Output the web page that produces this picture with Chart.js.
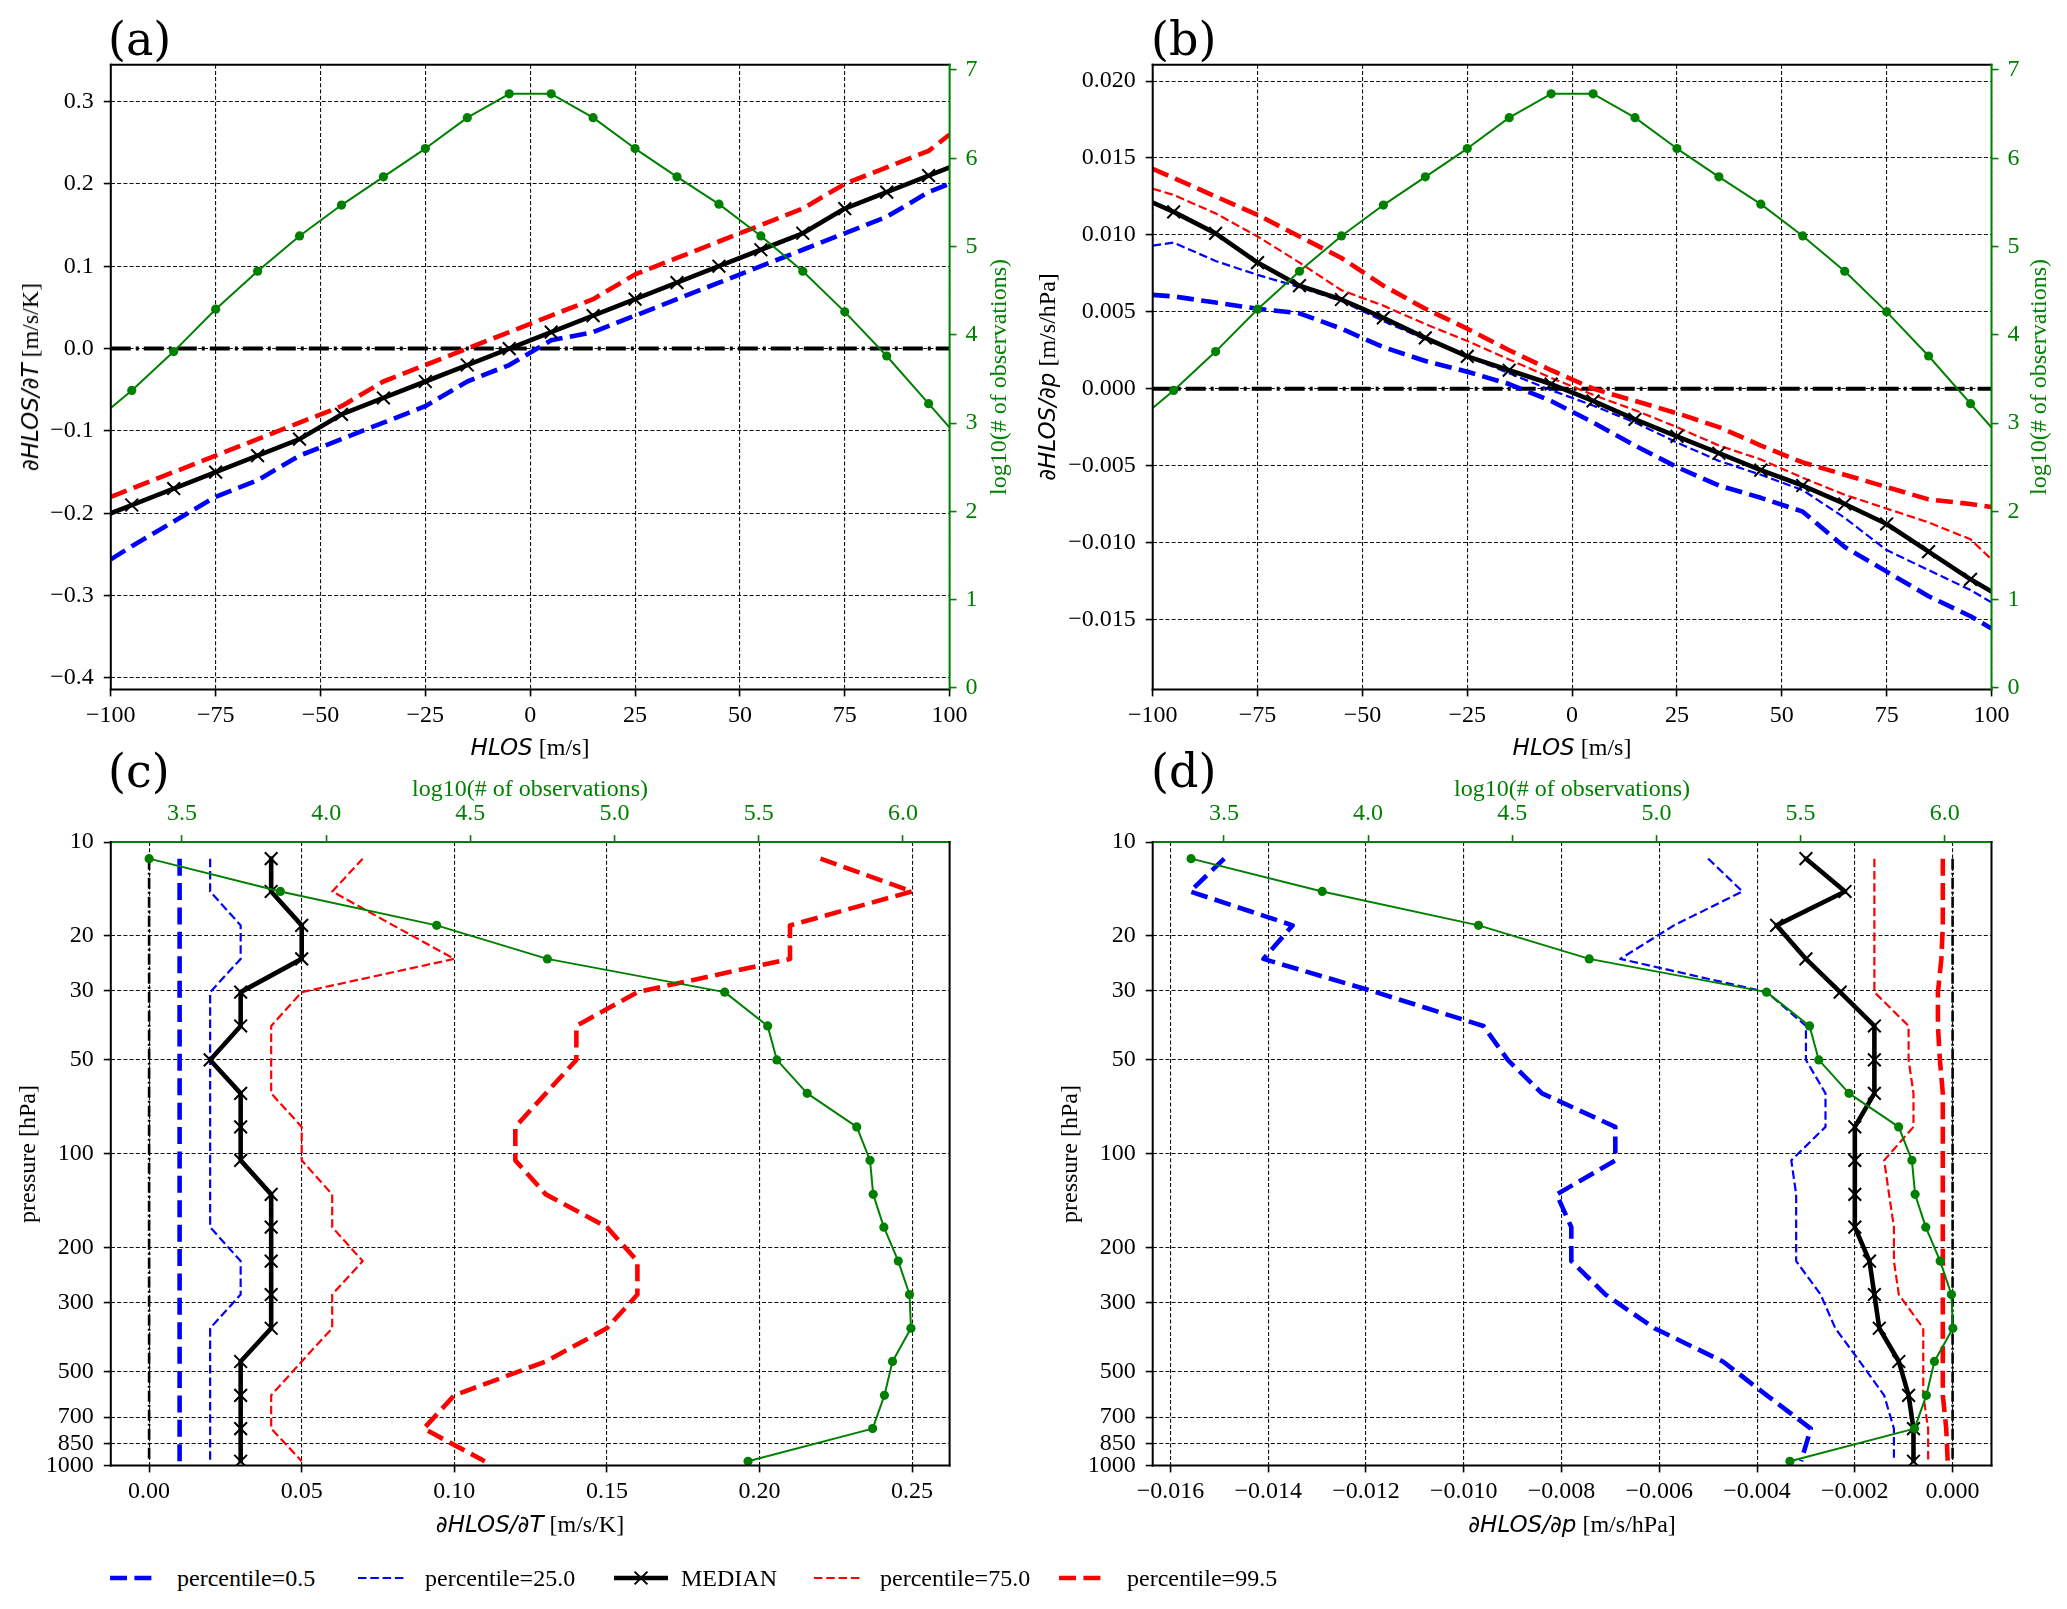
<!DOCTYPE html>
<html>
<head>
<meta charset="utf-8">
<script src="https://cdn.jsdelivr.net/npm/chart.js@4.4.0/dist/chart.umd.min.js"></script>
<style>
html,body{margin:0;padding:0;background:#fff;}
#fig{position:relative;width:2067px;height:1609px;overflow:hidden;background:#fff;font-family:'Liberation Serif','Times New Roman',serif;}
canvas.c{position:absolute;}
.t{position:absolute;white-space:nowrap;font-size:24px;line-height:1;color:#000;z-index:5;}
.m{font-family:'DejaVu Sans',sans-serif;font-style:italic;font-size:23px;}
.ctr{transform:translate(-50%,-50%);}
.rot{transform:translate(-50%,-50%) rotate(-90deg);}
.g{color:#008000;}
.pl{font-family:'DejaVu Serif',serif;font-size:46px;}
.lh{position:absolute;z-index:5;}
</style>
</head>
<body>
<div id="fig">
  <canvas class="c" id="ca" width="1034" height="780" style="left:0;top:0"></canvas>
  <canvas class="c" id="cb" width="1033" height="780" style="left:1034px;top:0"></canvas>
  <canvas class="c" id="cc" width="1034" height="790" style="left:0;top:760px"></canvas>
  <canvas class="c" id="cd" width="1033" height="790" style="left:1034px;top:760px"></canvas>

  <div class="t pl" style="left:108px;top:16px">(a)</div>
  <div class="t pl" style="left:1151px;top:16px">(b)</div>
  <div class="t pl" style="left:108px;top:748px">(c)</div>
  <div class="t pl" style="left:1151px;top:748px">(d)</div>

  <div class="t ctr" style="left:530px;top:747px"><span class="m">HLOS</span> [m/s]</div>
  <div class="t ctr" style="left:1572px;top:747px"><span class="m">HLOS</span> [m/s]</div>
  <div class="t rot" style="left:30px;top:377px"><span class="m">∂HLOS/∂T</span> [m/s/K]</div>
  <div class="t rot" style="left:1047px;top:377px"><span class="m">∂HLOS/∂p</span> [m/s/hPa]</div>
  <div class="t rot g" style="left:998px;top:377px">log10(# of observations)</div>
  <div class="t rot g" style="left:2038px;top:377px">log10(# of observations)</div>

  <div class="t ctr g" style="left:530px;top:788px">log10(# of observations)</div>
  <div class="t ctr g" style="left:1572px;top:788px">log10(# of observations)</div>
  <div class="t rot" style="left:27px;top:1154px">pressure [hPa]</div>
  <div class="t rot" style="left:1069px;top:1154px">pressure [hPa]</div>
  <div class="t ctr" style="left:530px;top:1524px"><span class="m">∂HLOS/∂T</span> [m/s/K]</div>
  <div class="t ctr" style="left:1572px;top:1524px"><span class="m">∂HLOS/∂p</span> [m/s/hPa]</div>

  <canvas class="lh" id="lg0" width="48" height="20" style="left:110px;top:1568px"></canvas>
  <div class="t" style="left:177px;top:1566px">percentile=0.5</div>
  <canvas class="lh" id="lg1" width="48" height="20" style="left:358px;top:1568px"></canvas>
  <div class="t" style="left:425px;top:1566px">percentile=25.0</div>
  <canvas class="lh" id="lg2" width="54" height="24" style="left:614px;top:1566px"></canvas>
  <div class="t" style="left:681px;top:1566px">MEDIAN</div>
  <canvas class="lh" id="lg3" width="48" height="20" style="left:814px;top:1568px"></canvas>
  <div class="t" style="left:880px;top:1566px">percentile=75.0</div>
  <canvas class="lh" id="lg4" width="48" height="20" style="left:1059px;top:1568px"></canvas>
  <div class="t" style="left:1127px;top:1566px">percentile=99.5</div>
</div>
<script>
// ---------------- DATA ----------------
// HLOS bins (m/s); edge points at +-100 carry no marker
const hlosBins = [-100,-95,-85,-75,-65,-55,-45,-35,-25,-15,-5,5,15,25,35,45,55,65,75,85,95,100];
const obsHlos  = [3.17,3.37,3.81,4.29,4.72,5.12,5.47,5.79,6.11,6.46,6.73,6.73,6.46,6.11,5.79,5.48,5.12,4.72,4.26,3.76,3.22,2.95];

// panel (a): dHLOS/dT vs HLOS
const aP005 = [-0.256,-0.24,-0.21,-0.18,-0.16,-0.13,-0.11,-0.09,-0.07,-0.04,-0.02,0.01,0.02,0.04,0.06,0.08,0.10,0.12,0.14,0.16,0.19,0.20];
const aP25  = [-0.20,-0.19,-0.17,-0.15,-0.13,-0.11,-0.08,-0.06,-0.04,-0.02,0.00,0.02,0.04,0.06,0.08,0.10,0.12,0.14,0.17,0.19,0.21,0.22];
const aMed  = [-0.20,-0.19,-0.17,-0.15,-0.13,-0.11,-0.08,-0.06,-0.04,-0.02,0.00,0.02,0.04,0.06,0.08,0.10,0.12,0.14,0.17,0.19,0.21,0.22];
const aP75  = [-0.20,-0.19,-0.17,-0.15,-0.13,-0.11,-0.08,-0.06,-0.04,-0.02,0.00,0.02,0.04,0.06,0.08,0.10,0.12,0.14,0.17,0.19,0.21,0.22];
const aP995 = [-0.18,-0.17,-0.15,-0.13,-0.11,-0.09,-0.07,-0.04,-0.02,0.00,0.02,0.04,0.06,0.09,0.11,0.13,0.15,0.17,0.20,0.22,0.24,0.26];

// panel (b): dHLOS/dp vs HLOS
const bP005 = [0.0061,0.0060,0.0056,0.0052,0.0049,0.0039,0.0027,0.0018,0.0011,0.0003,-0.0008,-0.0022,-0.0037,-0.0051,-0.0063,-0.0071,-0.0080,-0.0103,-0.0119,-0.0135,-0.0148,-0.0156];
const bP25  = [0.0093,0.0095,0.0083,0.0074,0.0066,0.0057,0.0044,0.0032,0.0021,0.0010,-0.0001,-0.0011,-0.0022,-0.0035,-0.0047,-0.0056,-0.0066,-0.0084,-0.0105,-0.0118,-0.0131,-0.0139];
const bMed  = [0.0121,0.0115,0.0101,0.0082,0.0067,0.0058,0.0046,0.0033,0.0021,0.0012,0.0003,-0.0008,-0.0020,-0.0031,-0.0042,-0.0053,-0.0063,-0.0075,-0.0088,-0.0106,-0.0124,-0.0132];
const bP75  = [0.0130,0.0126,0.0114,0.0099,0.0082,0.0064,0.0054,0.0042,0.0031,0.0019,0.0007,-0.0004,-0.0014,-0.0025,-0.0037,-0.0046,-0.0058,-0.0069,-0.0078,-0.0087,-0.0098,-0.0111];
const bP995 = [0.0143,0.0137,0.0125,0.0113,0.0099,0.0085,0.0067,0.0052,0.0039,0.0025,0.0012,0.0000,-0.0008,-0.0016,-0.0025,-0.0037,-0.0048,-0.0056,-0.0064,-0.0072,-0.0075,-0.0077];

// pressure levels (hPa) and observation counts
const pLevels = [11.3,14.4,18.5,23.7,30.3,38.9,50,64,82,105,135,172,221,283,363,464,596,762,970];
const obsLev  = [3.386,3.841,4.383,4.767,5.382,5.531,5.563,5.668,5.840,5.886,5.897,5.934,5.984,6.023,6.028,5.964,5.936,5.895,5.463];

// panel (c): dHLOS/dT vs pressure
const cP005 = [0.01,0.01,0.01,0.01,0.01,0.01,0.01,0.01,0.01,0.01,0.01,0.01,0.01,0.01,0.01,0.01,0.01,0.01,0.01];
const cP25  = [0.02,0.02,0.03,0.03,0.02,0.02,0.02,0.02,0.02,0.02,0.02,0.02,0.03,0.03,0.02,0.02,0.02,0.02,0.02];
const cMed  = [0.04,0.04,0.05,0.05,0.03,0.03,0.02,0.03,0.03,0.03,0.04,0.04,0.04,0.04,0.04,0.03,0.03,0.03,0.03];
const cP75  = [0.07,0.06,0.08,0.10,0.05,0.04,0.04,0.04,0.05,0.05,0.06,0.06,0.07,0.06,0.06,0.05,0.04,0.04,0.05];
const cP995 = [0.22,0.25,0.21,0.21,0.16,0.14,0.14,0.13,0.12,0.12,0.13,0.15,0.16,0.16,0.15,0.13,0.10,0.09,0.11];

// panel (d): dHLOS/dp vs pressure
const dP005 = [-0.0149,-0.0156,-0.0135,-0.0141,-0.0118,-0.0096,-0.0091,-0.0084,-0.0069,-0.0069,-0.0081,-0.0078,-0.0078,-0.0071,-0.0061,-0.0047,-0.0038,-0.0029,-0.0031];
const dP25  = [-0.0050,-0.0043,-0.0057,-0.0068,-0.0038,-0.0030,-0.0030,-0.0026,-0.0026,-0.0033,-0.0032,-0.0032,-0.0032,-0.0027,-0.0024,-0.0019,-0.0014,-0.0012,-0.0012];
const dMed  = [-0.0030,-0.0022,-0.0036,-0.0030,-0.0023,-0.0016,-0.0016,-0.0016,-0.0020,-0.0020,-0.0020,-0.0020,-0.0017,-0.0016,-0.0015,-0.0011,-0.0009,-0.0008,-0.0008];
const dP75  = [-0.0016,-0.0016,-0.0016,-0.0016,-0.0016,-0.0009,-0.0009,-0.0008,-0.0008,-0.0014,-0.0013,-0.0012,-0.0012,-0.0011,-0.0006,-0.0006,-0.0006,-0.0005,-0.0005];
const dP995 = [-0.0002,-0.0002,-0.0002,-0.00023,-0.0003,-0.0003,-0.00026,-0.0002,-0.0002,-0.0002,-0.0002,-0.0002,-0.0002,-0.0002,-0.0002,-0.0002,-0.0002,-0.00013,-0.0001];

// reference zero lines
const zeroHlosX = [-100, 100];
const zeroHlosY = [0, 0];
const zeroLevP  = [11.3, 970];
const zeroLevX  = [0, 0];

// ticks
const hlosTicks = [-100,-75,-50,-25,0,25,50,75,100];
const hlosTickLabels = ['−100','−75','−50','−25','0','25','50','75','100'];
const aYTicks = [0.3,0.2,0.1,0,-0.1,-0.2,-0.3,-0.4];
const aYTickLabels = ['0.3','0.2','0.1','0.0','−0.1','−0.2','−0.3','−0.4'];
const bYTicks = [0.02,0.015,0.01,0.005,0,-0.005,-0.01,-0.015];
const bYTickLabels = ['0.020','0.015','0.010','0.005','0.000','−0.005','−0.010','−0.015'];
const obsTicks = [0,1,2,3,4,5,6,7];
const obsTickLabels = ['0','1','2','3','4','5','6','7'];
const pTicks = [10,20,30,50,100,200,300,500,700,850,1000];
const pTickLabels = ['10','20','30','50','100','200','300','500','700','850','1000'];
const cXTicks = [0,0.05,0.10,0.15,0.20,0.25];
const cXTickLabels = ['0.00','0.05','0.10','0.15','0.20','0.25'];
const dXTicks = [-0.016,-0.014,-0.012,-0.010,-0.008,-0.006,-0.004,-0.002,0];
const dXTickLabels = ['−0.016','−0.014','−0.012','−0.010','−0.008','−0.006','−0.004','−0.002','0.000'];
const obsTopTicks = [3.5,4.0,4.5,5.0,5.5,6.0];
const obsTopTickLabels = ['3.5','4.0','4.5','5.0','5.5','6.0'];

// ---------------- STYLE / HELPERS ----------------
const BLUE = '#0000ff', RED = '#ff0000', GREEN = '#008000', BLACK = '#000000';
const THICK_W = 4.6, THICK_DASH = [17, 7.4];
const THIN_W = 2.2, THIN_DASH = [8.5, 3.8];

const xy = (xs, ys) => xs.map((x, i) => ({x: x, y: ys[i]}));
const vp = (vals, lev) => vals.map((v, i) => ({x: v, y: lev[i]}));

const framePlugin = {
  id: 'frame',
  afterDatasetsDraw(chart, args, o) {
    const {ctx, chartArea: a} = chart;
    ctx.save();
    ctx.lineWidth = 2;
    ctx.lineCap = 'square';
    const seg = (c, x1, y1, x2, y2) => { ctx.strokeStyle = c; ctx.beginPath(); ctx.moveTo(x1, y1); ctx.lineTo(x2, y2); ctx.stroke(); };
    seg(o.top || BLACK, a.left, a.top, a.right, a.top);
    seg(o.bottom || BLACK, a.left, a.bottom, a.right, a.bottom);
    seg(o.left || BLACK, a.left, a.top, a.left, a.bottom);
    seg(o.right || BLACK, a.right, a.top, a.right, a.bottom);
    ctx.restore();
  }
};

function axis(o) {
  const vertical = (o.position === 'left' || o.position === 'right');
  return {
    type: o.type || 'linear',
    position: o.position,
    min: o.min, max: o.max,
    reverse: !!o.reverse,
    afterBuildTicks: s => { s.ticks = o.ticks.map(v => ({value: v})); },
    afterFit: s => { if (vertical) s.width = o.size; else s.height = o.size; },
    ticks: {
      autoSkip: false, maxRotation: 0, minRotation: 0,
      color: o.color || BLACK,
      padding: o.pad,
      font: {family: "'Liberation Serif', 'Times New Roman', serif", size: 24},
      callback: (v, i) => o.labels[i]
    },
    grid: {
      display: true,
      drawOnChartArea: o.grid !== false,
      drawTicks: true,
      tickLength: 7,
      tickWidth: 1.6,
      tickColor: o.color || BLACK,
      tickBorderDash: [],
      color: '#111',
      lineWidth: 1.1
    },
    border: {display: false, dash: [4, 2.2]},
    title: {display: false}
  };
}

function lineDs(label, data, color, width, dash, order, extra) {
  return Object.assign({
    label: label, data: data, showLine: true, fill: false, tension: 0,
    borderColor: color, backgroundColor: color, borderWidth: width, borderDash: dash,
    borderCapStyle: 'butt', borderJoinStyle: 'round',
    pointRadius: 0, pointHoverRadius: 0, order: order
  }, extra || {});
}

const edgeless = r => ctx => (ctx.raw && Math.abs(ctx.raw.x) === 100 ? 0 : r);

function medianDs(data, edgesHidden) {
  return lineDs('MEDIAN', data, BLACK, 4.6, [], 1, {
    pointStyle: 'crossRot',
    pointRadius: edgesHidden ? edgeless(9) : 9,
    pointBorderWidth: 2,
    pointBorderColor: BLACK,
    pointBackgroundColor: BLACK,
    borderCapStyle: 'round'
  });
}
function obsDs(data, edgesHidden, axes) {
  return lineDs('log10(# of observations)', data, GREEN, 2, [], 0, Object.assign({
    pointStyle: 'circle',
    pointRadius: edgesHidden ? edgeless(4.6) : 4.6,
    pointBorderWidth: 0,
    pointBackgroundColor: GREEN
  }, axes));
}

const commonOpts = (padding, frame, scales) => ({
  responsive: false, animation: false, devicePixelRatio: 1, events: [],
  layout: {padding: padding},
  plugins: {legend: {display: false}, tooltip: {enabled: false}, frame: frame},
  scales: scales
});

// ---------------- PANEL (a) ----------------
new Chart(document.getElementById('ca'), {
  type: 'scatter',
  plugins: [framePlugin],
  data: {datasets: [
    lineDs('zero', xy(zeroHlosX, zeroHlosY), BLACK, 4, [20, 5, 3, 5], 10),
    lineDs('percentile=0.5', xy(hlosBins, aP005), BLUE, THICK_W, THICK_DASH, 6),
    lineDs('percentile=99.5', xy(hlosBins, aP995), RED, THICK_W, THICK_DASH, 5),
    lineDs('percentile=25.0', xy(hlosBins, aP25), BLUE, THIN_W, THIN_DASH, 4),
    lineDs('percentile=75.0', xy(hlosBins, aP75), RED, THIN_W, THIN_DASH, 3),
    medianDs(xy(hlosBins, aMed), true),
    obsDs(xy(hlosBins, obsHlos), true, {yAxisID: 'y2'})
  ]},
  options: commonOpts({top: 64.7, left: 0, right: 0, bottom: 0}, {right: GREEN}, {
    x: axis({position: 'bottom', min: -100, max: 100, ticks: hlosTicks, labels: hlosTickLabels, size: 90.6, pad: 5}),
    y: axis({position: 'left', min: -0.4139, max: 0.3447, ticks: aYTicks, labels: aYTickLabels, size: 110.8, pad: 10}),
    y2: axis({position: 'right', min: -0.017, max: 7.06, ticks: obsTicks, labels: obsTickLabels, size: 84.4, pad: 9, color: GREEN, grid: false})
  })
});

// ---------------- PANEL (b) ----------------
new Chart(document.getElementById('cb'), {
  type: 'scatter',
  plugins: [framePlugin],
  data: {datasets: [
    lineDs('zero', xy(zeroHlosX, zeroHlosY), BLACK, 4, [20, 5, 3, 5], 10),
    lineDs('percentile=0.5', xy(hlosBins, bP005), BLUE, THICK_W, THICK_DASH, 6),
    lineDs('percentile=99.5', xy(hlosBins, bP995), RED, THICK_W, THICK_DASH, 5),
    lineDs('percentile=25.0', xy(hlosBins, bP25), BLUE, THIN_W, THIN_DASH, 4),
    lineDs('percentile=75.0', xy(hlosBins, bP75), RED, THIN_W, THIN_DASH, 3),
    medianDs(xy(hlosBins, bMed), true),
    obsDs(xy(hlosBins, obsHlos), true, {yAxisID: 'y2'})
  ]},
  options: commonOpts({top: 64.7, left: 0, right: 0, bottom: 0}, {right: GREEN}, {
    x: axis({position: 'bottom', min: -100, max: 100, ticks: hlosTicks, labels: hlosTickLabels, size: 90.6, pad: 5}),
    y: axis({position: 'left', min: -0.01956, max: 0.02107, ticks: bYTicks, labels: bYTickLabels, size: 118.7, pad: 10}),
    y2: axis({position: 'right', min: -0.017, max: 7.06, ticks: obsTicks, labels: obsTickLabels, size: 75.5, pad: 9, color: GREEN, grid: false})
  })
});

// ---------------- PANEL (c) ----------------
new Chart(document.getElementById('cc'), {
  type: 'scatter',
  plugins: [framePlugin],
  data: {datasets: [
    lineDs('zero', vp(zeroLevX, zeroLevP), BLACK, 2.6, [11, 3, 2, 3], 10),
    lineDs('percentile=0.5', vp(cP005, pLevels), BLUE, THICK_W, THICK_DASH, 6),
    lineDs('percentile=99.5', vp(cP995, pLevels), RED, THICK_W, THICK_DASH, 5),
    lineDs('percentile=25.0', vp(cP25, pLevels), BLUE, THIN_W, THIN_DASH, 4),
    lineDs('percentile=75.0', vp(cP75, pLevels), RED, THIN_W, THIN_DASH, 3),
    medianDs(vp(cMed, pLevels), false),
    obsDs(vp(obsLev, pLevels), false, {xAxisID: 'x2'})
  ]},
  options: commonOpts({top: 0, left: 0, right: 84.4, bottom: 0}, {top: GREEN}, {
    x: axis({position: 'bottom', min: -0.01255, max: 0.2623, ticks: cXTicks, labels: cXTickLabels, size: 84.6, pad: 5}),
    x2: axis({position: 'top', min: 3.253, max: 6.162, ticks: obsTopTicks, labels: obsTopTickLabels, size: 82.1, pad: 7, color: GREEN, grid: false}),
    y: axis({type: 'logarithmic', position: 'left', min: 10, max: 1000, reverse: true, ticks: pTicks, labels: pTickLabels, size: 110.8, pad: 10})
  })
});

// ---------------- PANEL (d) ----------------
new Chart(document.getElementById('cd'), {
  type: 'scatter',
  plugins: [framePlugin],
  data: {datasets: [
    lineDs('zero', vp(zeroLevX, zeroLevP), BLACK, 2.6, [11, 3, 2, 3], 10),
    lineDs('percentile=0.5', vp(dP005, pLevels), BLUE, THICK_W, THICK_DASH, 6),
    lineDs('percentile=99.5', vp(dP995, pLevels), RED, THICK_W, THICK_DASH, 5),
    lineDs('percentile=25.0', vp(dP25, pLevels), BLUE, THIN_W, THIN_DASH, 4),
    lineDs('percentile=75.0', vp(dP75, pLevels), RED, THIN_W, THIN_DASH, 3),
    medianDs(vp(dMed, pLevels), false),
    obsDs(vp(obsLev, pLevels), false, {xAxisID: 'x2'})
  ]},
  options: commonOpts({top: 0, left: 0, right: 75.5, bottom: 0}, {top: GREEN}, {
    x: axis({position: 'bottom', min: -0.016364, max: 0.000796, ticks: dXTicks, labels: dXTickLabels, size: 84.6, pad: 5}),
    x2: axis({position: 'top', min: 3.253, max: 6.162, ticks: obsTopTicks, labels: obsTopTickLabels, size: 82.1, pad: 7, color: GREEN, grid: false}),
    y: axis({type: 'logarithmic', position: 'left', min: 10, max: 1000, reverse: true, ticks: pTicks, labels: pTickLabels, size: 118.7, pad: 10})
  })
});

// ---------------- LEGEND HANDLES ----------------
function handle(id, color, width, dash, marker) {
  const c = document.getElementById(id), g = c.getContext('2d');
  const y = c.height / 2;
  g.strokeStyle = color; g.lineWidth = width; g.setLineDash(dash); g.lineCap = 'butt';
  g.beginPath(); g.moveTo(0, y); g.lineTo(c.width, y); g.stroke();
  if (marker) {
    g.setLineDash([]); g.lineWidth = 2;
    const cx = c.width / 2, r = 6.4;
    g.beginPath(); g.moveTo(cx - r, y - r); g.lineTo(cx + r, y + r);
    g.moveTo(cx - r, y + r); g.lineTo(cx + r, y - r); g.stroke();
  }
}
handle('lg0', BLUE, THICK_W, THICK_DASH, false);
handle('lg1', BLUE, THIN_W, THIN_DASH, false);
handle('lg2', BLACK, 4.6, [], true);
handle('lg3', RED, THIN_W, THIN_DASH, false);
handle('lg4', RED, THICK_W, THICK_DASH, false);
</script>
</body>
</html>
